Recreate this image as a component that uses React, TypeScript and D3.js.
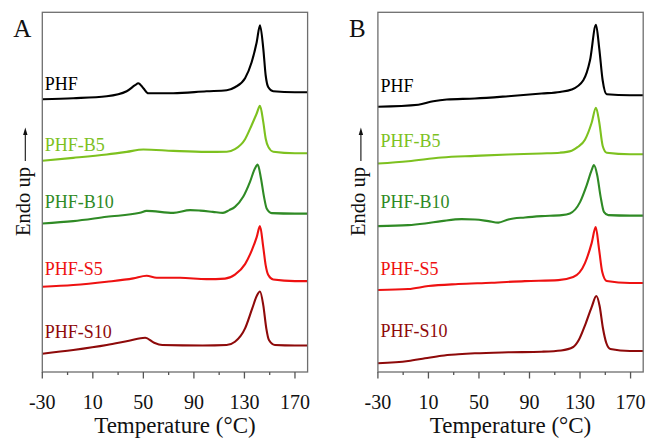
import React from 'react';
import * as d3 from 'd3';

// DSC heating curves, [temperature °C, heat flow (a.u., offset)]
const samples = ['PHF', 'PHF-B5', 'PHF-B10', 'PHF-S5', 'PHF-S10'];
const colors = ['#000000', '#7dc11f', '#2f8a25', '#ee1111', '#8e0a0a'];

const panelA_PHF = [[-30, 273], [-5.5, 274], [21, 276], [36.8, 281], [43.4, 287], [46, 289], [50, 284], [53.9, 279], [73.7, 279], [100, 281], [116, 282], [122.5, 285], [130.5, 294], [135.7, 310], [139.7, 330], [142.3, 347], [144.9, 324], [146.8, 297], [148.9, 285], [152.8, 281], [170, 280], [180, 280]];
const panelA_B5 = [[-30, 211.5], [-5.5, 214.3], [21, 217.7], [36.8, 220.3], [50, 222.7], [73.7, 221.3], [100, 220.3], [116, 220.5], [122.5, 223], [130.5, 233], [135.7, 247], [139.7, 258.7], [142.3, 266.3], [144.9, 250.3], [146.8, 233.7], [148.9, 225.3], [152.8, 220.5], [170, 219], [180, 219]];
const panelA_B10 = [[-30, 148.7], [-5.5, 151], [21, 155.3], [47.3, 159.3], [52.6, 161.3], [73.7, 159.3], [87, 162], [95, 161.5], [105, 160.3], [113, 159.3], [118, 162], [122.5, 165.3], [129, 175.3], [134.4, 190.3], [138.3, 203.7], [140.5, 207.5], [143.1, 193.7], [145.5, 175.3], [147.6, 163.7], [151.6, 159], [170, 158.5], [180, 158.5]];
const panelA_S5 = [[-30, 85.3], [-5.5, 87], [21, 90.3], [42, 93.7], [52.6, 96.3], [60.5, 94.3], [79, 94.3], [100, 93], [114.6, 93.5], [122.5, 97.5], [130.5, 108], [135.9, 122], [139.7, 135], [142.3, 146], [144.9, 125], [146.8, 107], [148.9, 97], [152.8, 92.5], [170, 91], [180, 91]];
const panelA_S10 = [[-30, 18.3], [-5.5, 22], [21, 27], [38.6, 31.3], [51.4, 34.3], [58.5, 29.3], [65, 27], [97, 26.5], [115.9, 27], [122.5, 30.3], [130.5, 43.7], [136.2, 63.7], [140.1, 77], [142.3, 80.5], [144.9, 67], [147.3, 43.7], [149.4, 32], [154.2, 27], [170, 26.5], [180, 26.5]];

const panelB_PHF = [[-30, 265.5], [2, 267.5], [13.8, 271], [24.5, 272.7], [46.8, 273.7], [73.2, 276], [99.6, 278.7], [114.1, 280.3], [123.4, 282.7], [132.6, 292], [137.9, 312], [142.6, 347.5], [145.2, 324], [147.9, 292], [151.1, 278], [169.5, 277], [180, 277]];
const panelB_B5 = [[-30, 208.7], [-6, 211], [20.4, 214.7], [46.8, 216.3], [73.2, 217.7], [99.6, 218.7], [114.1, 219.5], [123.4, 221.5], [128, 225], [133.9, 232.5], [139.2, 249.5], [142.6, 264.5], [145.2, 250], [147.9, 226.5], [151.1, 219.5], [169.5, 218], [180, 218]];
const panelB_B10 = [[-30, 146], [-6, 147], [7.3, 148.7], [20.4, 151], [36.3, 153], [46.8, 152.7], [57.4, 151], [65.3, 149.5], [73.2, 152.7], [86.4, 154.7], [99.6, 156], [115.5, 157], [122, 158.7], [130, 170], [135.3, 187], [139.2, 202], [141, 207], [143.6, 197], [146.3, 175.3], [148.9, 160.3], [152.4, 157], [169.5, 156.5], [180, 156.5]];
const panelB_S5 = [[-30, 82], [-6, 83], [9.9, 86], [33.6, 88], [60, 89.3], [86.4, 91], [112.8, 92], [124.6, 95], [133.9, 109], [139.2, 129], [142.4, 145], [145, 123.5], [147.6, 100], [151.1, 91], [169.5, 89], [180, 89]];
const panelB_S10 = [[-30, 8.7], [-6, 11], [7.3, 13.7], [20.4, 16.3], [33.6, 17.7], [46.8, 18.7], [73.2, 19.7], [99.6, 20.3], [115, 21.5], [124.6, 25], [129, 32], [134, 47], [139.2, 65], [142.9, 76], [145.5, 66], [148.1, 44], [150.8, 29], [154, 23], [169.5, 21], [180, 21]];

// label baselines in data units (same offsets as curves)
const labelsA = [282, 221, 164, 97, 34];
const labelsB = [280.5, 225.5, 164, 97, 35];

const tickValues = d3.range(-30, 171, 20);
const tickLabels = d3.range(-30, 171, 40);

const FONT = '"Liberation Serif", "Times New Roman", serif';

const Panel = ({ left, letter, curves, labels }) => {
  const width = 265.3;
  const top = 12.3;
  const bottom = 372;
  const x = d3.scaleLinear().domain([-30, 180]).range([left, left + width]);
  const y = d3.scaleLinear().domain([0, 360]).range([bottom, top]);
  const line = d3.line().x(d => x(d[0])).y(d => y(d[1])).curve(d3.curveMonotoneX);
  const ax = left - 17; // arrow column of the rotated y label

  return (
    <g>
      {curves.map((c, i) => (
        <path key={i} d={line(c)} fill="none" stroke={colors[i]} strokeWidth={2.1} strokeLinejoin="round" />
      ))}
      {samples.map((s, i) => (
        <text key={s} x={left + 2.5} y={y(labels[i])} fill={colors[i]} fontSize={18} fontFamily={FONT}>{s}</text>
      ))}
      <rect x={left} y={top} width={width} height={bottom - top} fill="none" stroke="#6e6e6e" strokeWidth={1.3} />
      {tickValues.map(t => (
        <line key={t} x1={x(t)} x2={x(t)} y1={bottom} y2={bottom + (tickLabels.includes(t) ? 6.5 : 3)} stroke="#555" strokeWidth={1.3} />
      ))}
      {tickLabels.map(t => (
        <text key={t} x={x(t)} y={409} textAnchor="middle" fontSize={20} fontFamily={FONT} fill="#111">{t}</text>
      ))}
      <text x={left + width / 2} y={433} textAnchor="middle" fontSize={23} fontFamily={FONT} fill="#111">Temperature (°C)</text>
      <text x={left - 29} y={37} fontSize={25} fontFamily={FONT} fill="#111">{letter}</text>
      <text transform={`translate(${left - 12.5},236) rotate(-90)`} fontSize={20.5} fontFamily={FONT} fill="#111">Endo up</text>
      <line x1={ax} x2={ax} y1={161} y2={133} stroke="#111" strokeWidth={1.1} />
      <path d={`M${ax},127.5 L${ax - 2.2},135 L${ax + 2.2},135 Z`} fill="#111" />
    </g>
  );
};

export default function App() {
  return (
    <svg width={649} height={441} style={{ position: 'absolute', left: 0, top: 0 }}>
      <rect width={649} height={441} fill="#fff" />
      <Panel left={42.3} letter="A" labels={labelsA}
        curves={[panelA_PHF, panelA_B5, panelA_B10, panelA_S5, panelA_S10]} />
      <Panel left={377.9} letter="B" labels={labelsB}
        curves={[panelB_PHF, panelB_B5, panelB_B10, panelB_S5, panelB_S10]} />
    </svg>
  );
}
